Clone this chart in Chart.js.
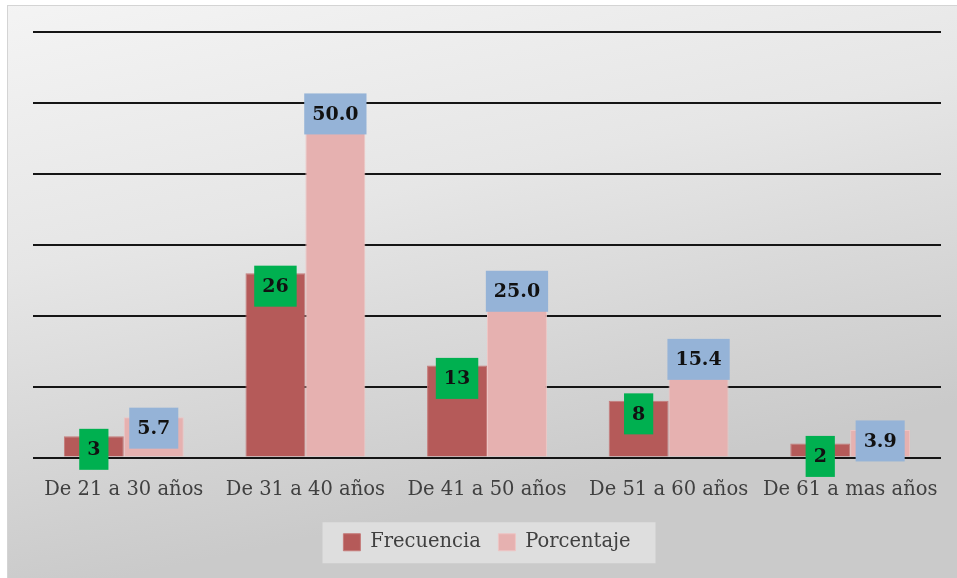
<!DOCTYPE html>
<html>
<head>
<meta charset="utf-8">
<script src="https://cdn.jsdelivr.net/npm/chart.js@4.4.1/dist/chart.umd.min.js"></script>
<style>
  body { margin: 0; background: #fff; }
  canvas { display: block; }
</style>
</head>
<body>
<canvas id="myChart" width="957" height="578"></canvas>
<script>
var categories = ["De 21 a 30 años", "De 31 a 40 años", "De 41 a 50 años", "De 51 a 60 años", "De 61 a mas años"];
var frecuencia = [3, 26, 13, 8, 2];
var porcentaje = [5.7, 50.0, 25.0, 15.4, 3.9];
var seriesNames = ["Frecuencia", "Porcentaje"];

var ctx = document.getElementById("myChart").getContext('2d');

// gray gradient frame behind everything, plus the lighter legend strip
var backdrop = {
  id: 'backdrop',
  beforeDraw: function(chart) {
    var c = chart.ctx;
    c.save();
    var g = c.createLinearGradient(0, 0, 120, 578);
    g.addColorStop(0, '#f4f4f4');
    g.addColorStop(0.45, '#e6e6e6');
    g.addColorStop(1, '#cacaca');
    c.fillStyle = g;
    c.fillRect(7, 5, 950, 573);
    c.strokeStyle = '#d4d4d4';
    c.lineWidth = 1;
    c.strokeRect(7.5, 5.5, 950, 573);
    var lg = chart.legend;
    if (lg) {
      var items = lg.legendHitBoxes;
      var mid = items.length ? items[0].top + items[0].height / 2 : lg.top + lg.height / 2;
      c.fillStyle = 'rgba(235,235,235,0.6)';
      c.fillRect(lg.left + (lg.width - 333) / 2 + 2, mid - 20, 333, 41);
    }
    c.restore();
  }
};

// boxed value labels sitting over the top of each bar
var valueBoxes = {
  id: 'valueBoxes',
  afterDatasetsDraw: function(chart) {
    var c = chart.ctx;
    c.save();
    c.font = 'bold 19px "DejaVu Serif"';
    c.textAlign = 'center';
    c.textBaseline = 'middle';
    chart.data.datasets.forEach(function(ds, i) {
      var meta = chart.getDatasetMeta(i);
      meta.data.forEach(function(bar, j) {
        var txt = i === 0 ? String(ds.data[j]) : ds.data[j].toFixed(1);
        var w = c.measureText(txt).width + 16;
        var h = 41;
        var cy = bar.y + (i === 0 ? 13 : 11);
        c.fillStyle = i === 0 ? '#00b050' : '#95b3d7';
        c.fillRect(bar.x - w / 2, cy - h / 2, w, h);
        c.fillStyle = '#111';
        c.fillText(txt, bar.x, cy + 1);
      });
    });
    c.restore();
  }
};

var myChart = new Chart(ctx, {
  type: 'bar',
  data: {
    labels: categories,
    datasets: [{
      label: seriesNames[0],
      data: frecuencia,
      backgroundColor: '#b55a59',
      borderColor: '#c57a79',
      borderWidth: 1
    }, {
      label: seriesNames[1],
      data: porcentaje,
      backgroundColor: '#e6b1b0',
      borderColor: '#eec5c4',
      borderWidth: 1
    }]
  },
  options: {
    responsive: false,
    animation: false,
    layout: { padding: { left: 33, right: 16, top: 32, bottom: 16 } },
    datasets: { bar: { categoryPercentage: 0.66, barPercentage: 1.0 } },
    scales: {
      x: {
        grid: { display: false },
        border: { display: false },
        ticks: { color: '#404040', padding: 13, font: { family: 'DejaVu Serif', size: 19.5 } }
      },
      y: {
        min: 0,
        max: 60,
        ticks: { display: false, stepSize: 10 },
        grid: { color: '#151515', lineWidth: 2, drawTicks: false },
        border: { display: false }
      }
    },
    plugins: {
      legend: {
        position: 'bottom',
        labels: {
          color: '#404040',
          boxWidth: 17,
          boxHeight: 17,
          padding: 17.5,
          font: { family: 'DejaVu Serif', size: 19.5 }
        }
      },
      tooltip: { enabled: false }
    }
  },
  plugins: [backdrop, valueBoxes]
});
</script>
</body>
</html>
